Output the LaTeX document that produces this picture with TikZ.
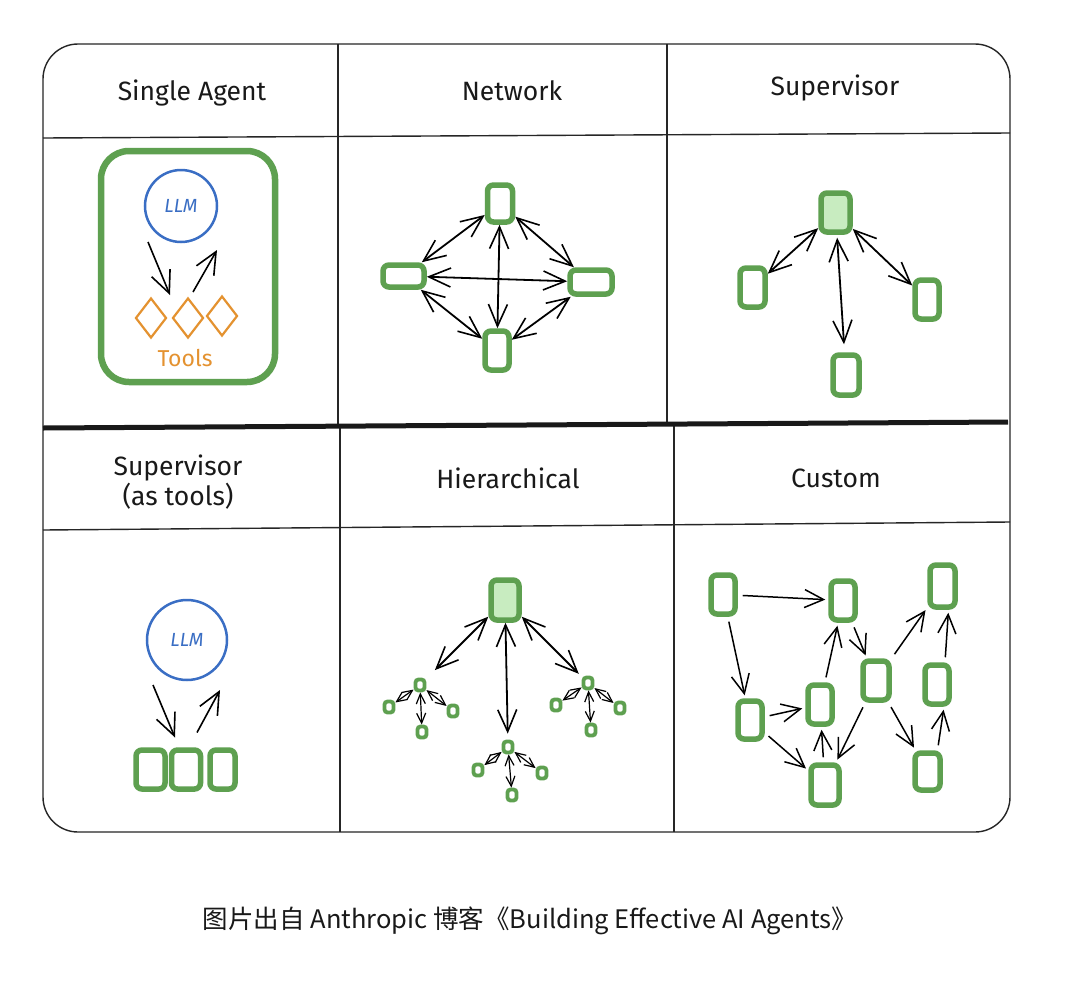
\documentclass[tikz,border=0pt]{standalone}
\usepackage{fontspec}
\setmainfont{Fira Sans}
\newfontfamily\cjk{Noto Sans CJK SC}
\usetikzlibrary{arrows.meta,shapes.geometric}
\definecolor{ag}{RGB}{94,160,80}
\definecolor{agfill}{RGB}{200,236,192}
\definecolor{llmblue}{RGB}{58,110,196}
\definecolor{toolorange}{RGB}{228,146,48}
\tikzset{
  frame/.style={line width=1.4pt, draw=black!85},
  title/.style={font=\fontsize{26.5}{30}\selectfont, text=black!90, align=center},
  agbox/.style={draw=ag, line width=5.5pt, rounded corners=6pt, inner sep=0pt},
  supbox/.style={agbox, fill=agfill},
  sz/.style 2 args={minimum width=#1, minimum height=#2},
  mini/.style={draw=ag, line width=3.8pt, rounded corners=3pt, inner sep=0pt, minimum width=9pt, minimum height=11pt},
  arr/.style={-{Straight Barb[length=22pt,width=20pt,line width=1.6pt]}, line width=1.6pt},
  darr/.style={{Straight Barb[length=22pt,width=19pt,line width=1.6pt]}-{Straight Barb[length=22pt,width=19pt,line width=1.6pt]}, line width=1.8pt},
  sarr/.style={{Straight Barb[length=10pt,width=9pt]}-{Straight Barb[length=10pt,width=9pt]}, line width=1.2pt},
  llm/.style={circle, draw=llmblue, line width=2.5pt, text=llmblue, font=\fontsize{19}{21}\selectfont\itshape, inner sep=0pt},
  tool/.style={diamond, draw=toolorange, line width=2.2pt, inner sep=0pt, minimum width=31pt, minimum height=40pt, aspect=0.75},
  carr/.style={-{Straight Barb[length=19pt,width=18pt,line width=1.5pt]}, line width=1.5pt, shorten <=5pt, shorten >=3pt}
}
\begin{document}
\begin{tikzpicture}[x=1pt,y=-1pt]
\fill[white] (0,0) rectangle (1080,1002);
\useasboundingbox (0,0) rectangle (1080,1002);

% frame and grid
\draw[frame, rounded corners=35pt] (43,44) rectangle (1010,832);
\draw[frame] (43,138) -- (1010,133);
\draw[frame] (43,530) -- (1010,522);
\draw[frame] (338,44) -- (338,428);
\draw[frame] (667,44) -- (667,424);
\draw[frame] (340,428) -- (340,832);
\draw[frame] (674,424) -- (674,832);
\draw[line width=5pt, draw=black!90] (43,428) -- (1008,422);

% titles
\node[title] (t1) at (192,93) {Single Agent};
\node[title] (t2) at (512,91) {Network};
\node[title] (t3) at (835,88) {Supervisor};
\node[title] (t4) at (178,482) {Supervisor\\(as tools)};
\node[title] (t5) at (508,478) {Hierarchical};
\node[title] (t6) at (836,478) {Custom};

% ---------- Single Agent ----------
\node[draw=ag, line width=6.5pt, rounded corners=28pt, sz={174}{231}] (sac) at (188,266.5) {};
\node[llm, minimum size=72pt] (llma) at (181,206) {LLM};
\node[tool] (ta) at (151,318) {};
\node[tool] (tb) at (188,318) {};
\node[tool] (tc) at (222,316) {};
\node[text=toolorange, font=\fontsize{23}{26}\selectfont] (tools) at (185,358) {Tools};
\draw[arr] ([shift={(-33,36)}]llma.center) -- ([shift={(-18,-23)}]tb.center);
\draw[arr] ([shift={(5,-26)}]tb.center) -- ([shift={(36,44)}]llma.center);

% ---------- Network ----------
\node[agbox, sz={25}{37}] (nt) at (500,203.5) {};
\node[agbox, sz={41}{22}] (nl) at (403.5,276) {};
\node[agbox, sz={42}{24}] (nr) at (591,282) {};
\node[agbox, sz={24}{39}] (nb) at (497,350.5) {};
\draw[darr] (nl) -- (nt);
\draw[darr] (nt) -- (nr);
\draw[darr] (nr) -- (nb);
\draw[darr] (nb) -- (nl);
\draw[darr] (nl) -- (nr);
\draw[darr] (nt) -- (nb);

% ---------- Supervisor ----------
\node[supbox, sz={29}{39}] (st) at (835.5,212.5) {};
\node[agbox, sz={25}{39}] (sl) at (752.5,287.5) {};
\node[agbox, sz={24}{39}] (sr) at (927,299.5) {};
\node[agbox, sz={26}{40}] (sb) at (846,375) {};
\draw[darr] (st) -- (sl);
\draw[darr] (st) -- (sr);
\draw[darr, shorten >=8pt, shorten <=3pt] (st) -- (sb);

% ---------- Supervisor (as tools) ----------
\node[llm, minimum size=80pt] (llmb) at (187,640) {LLM};
\node[agbox, sz={29}{39}] (ga) at (150.5,769.5) {};
\node[agbox, sz={29}{39}] (gb) at (186,769.5) {};
\node[agbox, sz={25}{39}] (gc) at (222.5,769.5) {};
\draw[arr] ([shift={(-34,45)}]llmb.center) -- ([shift={(-11,-32)}]gb.center);
\draw[arr] ([shift={(11,-37)}]gb.center) -- ([shift={(33,50)}]llmb.center);

% ---------- Hierarchical ----------
\node[supbox, sz={28}{40}] (ht) at (505,600) {};
\node[mini] (hl) at (420,685) {};
\node[mini] (hla) at (389,707) {};
\node[mini] (hlb) at (453,711) {};
\node[mini] (hlc) at (422,732) {};
\node[mini] (hm) at (508,747) {};
\node[mini] (hma) at (478,770) {};
\node[mini] (hmb) at (542,773) {};
\node[mini] (hmc) at (512,795) {};
\node[mini] (hr) at (588,683) {};
\node[mini] (hra) at (556,705) {};
\node[mini] (hrb) at (620,708) {};
\node[mini] (hrc) at (591,730) {};
\draw[darr, shorten >=12pt] (ht) -- (hl);
\draw[darr, shorten >=6pt] (ht) -- (hm);
\draw[darr, shorten >=4pt] (ht) -- (hr);
\foreach \p in {hl,hm,hr}{
  \draw[sarr] (\p) -- (\p a);
  \draw[sarr] (\p) -- (\p b);
  \draw[sarr] (\p) -- (\p c);
}

% ---------- Custom ----------
\node[agbox, sz={24}{39}] (ca) at (723,594.5) {};
\node[agbox, sz={24}{39}] (cb) at (843,600.5) {};
\node[agbox, sz={25}{42}] (cc) at (942.5,586) {};
\node[agbox, sz={24}{38}] (cd) at (750,720) {};
\node[agbox, sz={24}{39}] (ce) at (820,704.5) {};
\node[agbox, sz={26}{39}] (cf) at (876,680.5) {};
\node[agbox, sz={24}{39}] (cg) at (937,684.5) {};
\node[agbox, sz={28}{40}] (ch) at (825,785) {};
\node[agbox, sz={25}{37}] (ci) at (927.5,771.5) {};
\draw[carr] (ca) -- (cb);
\draw[carr] (ca) -- (cd);
\draw[carr] (cd) -- (ce);
\draw[carr] (cd) -- (ch);
\draw[carr] (ch) -- (ce);
\draw[carr] (ce) -- (cb);
\draw[carr] (cb) -- (cf);
\draw[carr] (cf) -- (cc);
\draw[carr] (cf) -- (ch);
\draw[carr] (cf) -- (ci);
\draw[carr] ([xshift=10pt]ci.north) -- ([xshift=7pt]cg.south);
\draw[carr] ([xshift=8pt]cg.north) -- ([xshift=6pt]cc.south);

% caption
\node[font=\cjk\fontsize{25.5}{30}\selectfont, text=black!90] (cap) at (530,921) {图片出自 Anthropic 博客《Building Effective AI Agents》};
\end{tikzpicture}
\end{document}
